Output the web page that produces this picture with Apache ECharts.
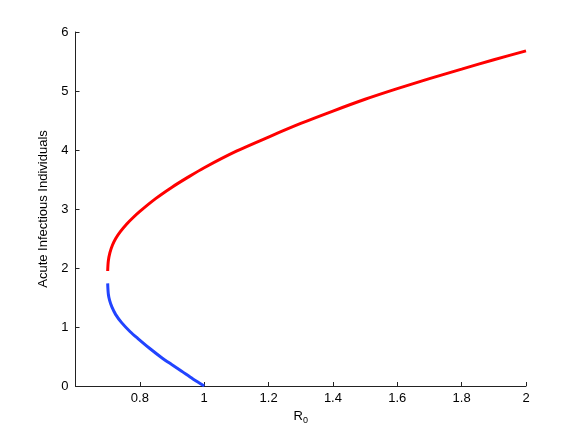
<!DOCTYPE html>
<html>
<head>
<meta charset="utf-8">
<script src="https://cdn.jsdelivr.net/npm/echarts@6/dist/echarts.min.js"></script>
<style>html,body{margin:0;padding:0;background:#fff}#c{width:581px;height:435px}</style>
</head>
<body>
<div id="c"></div>
<script>
// Upper (red) branch
var redX = [0.700, 0.702, 0.707, 0.715, 0.725, 0.740, 0.760, 0.780, 0.800, 0.850, 0.900, 0.950, 1.000, 1.100, 1.200, 1.300, 1.400, 1.500, 1.600, 1.700, 1.800, 1.900, 2.000];
var redY = [1.95, 2.12, 2.26, 2.39, 2.50, 2.62, 2.75, 2.86, 2.96, 3.18, 3.37, 3.54, 3.70, 3.98, 4.22, 4.45, 4.66, 4.86, 5.04, 5.21, 5.37, 5.53, 5.68];
// Lower (blue) branch
var blueX = [0.700, 0.702, 0.706, 0.713, 0.725, 0.744, 0.770, 0.795, 0.830, 0.868, 0.900, 0.930, 0.965, 1.000];
var blueY = [1.74, 1.56, 1.45, 1.34, 1.21, 1.07, 0.92, 0.80, 0.64, 0.48, 0.36, 0.25, 0.12, 0.00];
var xTicks = [0.6, 2.0, 0.2];
var yTicks = [0, 6, 1];

function pairs(xs, ys) { return xs.map(function (x, i) { return [x, ys[i]]; }); }

var chart = echarts.init(document.getElementById('c'));
var font = 'Liberation Sans, Arial, sans-serif';
chart.setOption({
  animation: false,
  grid: { left: 75.5, right: 55, top: 32, bottom: 49 },
  xAxis: {
    type: 'value', min: xTicks[0], max: xTicks[1], interval: xTicks[2],
    axisLine: { lineStyle: { color: '#222', width: 1 } },
    axisTick: { inside: true, length: 4, lineStyle: { color: '#222' } },
    splitLine: { show: false },
    axisLabel: {
      color: '#000', fontSize: 13, fontFamily: font, margin: 6,
      formatter: function (v) { return Math.abs(v - 0.6) < 1e-9 ? '' : String(+v.toFixed(1)); }
    },
    name: '{a|R}{b|0}', nameLocation: 'middle', nameGap: 22,
    nameTextStyle: {
      rich: {
        a: { fontSize: 13, fontFamily: font, color: '#000' },
        b: { fontSize: 9, fontFamily: font, color: '#000', verticalAlign: 'bottom', padding: [8, 0, 0, 0] }
      }
    }
  },
  yAxis: {
    type: 'value', min: yTicks[0], max: yTicks[1], interval: yTicks[2],
    axisLine: { show: true, lineStyle: { color: '#222', width: 1 } },
    axisTick: { show: true, inside: true, length: 4, lineStyle: { color: '#222' } },
    splitLine: { show: false },
    axisLabel: { color: '#000', fontSize: 13, fontFamily: font, margin: 7 },
    name: 'Acute Infectious Individuals', nameLocation: 'middle', nameGap: 24,
    nameTextStyle: { fontSize: 13, fontFamily: font, color: '#000' }
  },
  series: [
    { type: 'line', data: pairs(redX, redY), smooth: 0.3, showSymbol: false,
      lineStyle: { color: '#ff0000', width: 3 }, itemStyle: { color: '#ff0000' } },
    { type: 'line', data: pairs(blueX, blueY), smooth: 0.3, showSymbol: false,
      lineStyle: { color: '#2244ff', width: 3 }, itemStyle: { color: '#2244ff' } }
  ]
});
</script>
</body>
</html>
